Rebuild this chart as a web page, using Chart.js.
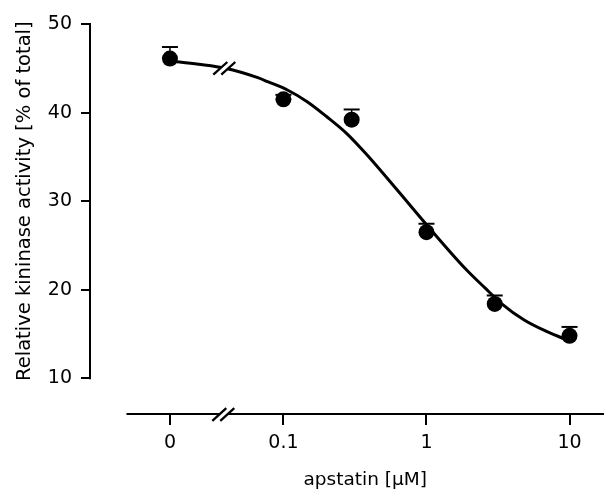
<!DOCTYPE html>
<html><head><meta charset="utf-8">
<script src="https://cdn.jsdelivr.net/npm/chart.js@4"></script>
<style>html,body{margin:0;padding:0;background:#fff}</style>
</head><body>
<canvas id="c" width="612" height="491"></canvas>
<script>
// ---- data ----
const concentrations = [0, 0.1, 0.3, 1, 3, 10];          // apstatin [µM]
const activity       = [46.1, 41.5, 39.2, 26.5, 18.4, 14.8];
const errUp          = [1.3, 0.5, 1.15, 0.95, 0.95, 1.0];
const curveConc = [0, 0.0255, 0.0392, 0.0662, 0.0776, 0.1066, 0.1466, 0.2011, 0.2761, 0.3793, 0.644, 1.012, 1.858, 2.553, 3.327, 4.82, 6.97, 10];
const curveVal  = [45.82, 45.45, 45.0, 43.94, 43.49, 42.55, 41.23, 39.53, 37.66, 35.32, 31.0, 27.25, 22.42, 20.23, 18.47, 16.58, 15.26, 14.21];
const xTickValues = [0, 0.1, 1, 10];
const xTickLabels = ['0', '0.1', '1', '10'];
const yTickValues = [10, 20, 30, 40, 50];
const xTitle = 'apstatin [\u03BCM]';
const yTitle = 'Relative kininase activity [% of total]';

// axis layout constants (log-axis positions)
const ZERO_AT = 0.0161;      // where "0" is placed on the broken log axis
const BREAK_AT = 0.038;      // axis break position
const BREAK_CURVE_Y = 45.0;
const X_LINE_START = 0.0080;
const X_MIN = Math.pow(10, -2.352), X_MAX = Math.pow(10, 1.241);
const Y_MIN = 5.97, Y_MAX = 50;
const FONT = "'DejaVu Sans', Verdana, sans-serif";

const pos = v => (v === 0 ? ZERO_AT : v);

function drawBreak(ctx, cx, cy) {
  const dx = 7, dy = 6.3, off = 4;
  ctx.save();
  ctx.lineCap = 'butt';
  ctx.strokeStyle = '#fff';
  ctx.lineWidth = 5;
  ctx.beginPath(); ctx.moveTo(cx - dx, cy + dy); ctx.lineTo(cx + dx, cy - dy); ctx.stroke();
  ctx.strokeStyle = '#000';
  ctx.lineWidth = 2.3;
  [-off, off].forEach(o => {
    ctx.beginPath(); ctx.moveTo(cx + o - dx, cy + dy); ctx.lineTo(cx + o + dx, cy - dy); ctx.stroke();
  });
  ctx.restore();
}

const decor = {
  id: 'decor',
  afterDatasetsDraw(chart) {
    const ctx = chart.ctx, xs = chart.scales.x, ys = chart.scales.y, ca = chart.chartArea;
    ctx.save();
    ctx.strokeStyle = '#000';
    // y axis line (10..50)
    ctx.lineWidth = 2;
    ctx.beginPath();
    ctx.moveTo(ca.left, ys.getPixelForValue(yTickValues[0]) + 1);
    ctx.lineTo(ca.left, ys.getPixelForValue(yTickValues[yTickValues.length - 1]) - 1);
    ctx.stroke();
    // x axis line
    ctx.beginPath();
    ctx.moveTo(xs.getPixelForValue(X_LINE_START), ca.bottom);
    ctx.lineTo(ca.right, ca.bottom);
    ctx.stroke();
    // error bars (upper only)
    concentrations.forEach((c, i) => {
      const x = xs.getPixelForValue(pos(c));
      const y0 = ys.getPixelForValue(activity[i]);
      const y1 = ys.getPixelForValue(activity[i] + errUp[i]);
      ctx.lineWidth = 1.5;
      ctx.beginPath(); ctx.moveTo(x, y0); ctx.lineTo(x, y1); ctx.stroke();
      ctx.lineWidth = 2;
      ctx.beginPath(); ctx.moveTo(x - 8, y1); ctx.lineTo(x + 8, y1); ctx.stroke();
    });
    // breaks
    const bx = xs.getPixelForValue(BREAK_AT);
    drawBreak(ctx, bx + 1, ys.getPixelForValue(BREAK_CURVE_Y));
    drawBreak(ctx, bx, ca.bottom + 0.5);
    // titles
    ctx.fillStyle = '#000';
    ctx.textAlign = 'center';
    ctx.textBaseline = 'alphabetic';
    ctx.font = '18.5px ' + FONT;
    const xl = xs.getPixelForValue(X_LINE_START);
    ctx.fillText(xTitle, (xl + ca.right) / 2, 485);
    ctx.save();
    ctx.font = '19.5px ' + FONT;
    const yc = (ys.getPixelForValue(10) + ys.getPixelForValue(50)) / 2;
    ctx.translate(25, yc);
    ctx.rotate(-Math.PI / 2);
    ctx.textBaseline = 'middle';
    ctx.fillText(yTitle, 0, 0);
    ctx.restore();
    ctx.restore();
  }
};

new Chart(document.getElementById('c'), {
  type: 'scatter',
  data: {
    datasets: [
      {
        type: 'line',
        data: curveConc.map((c, i) => ({ x: pos(c), y: curveVal[i] })),
        borderColor: '#000', borderWidth: 3, pointRadius: 0,
        cubicInterpolationMode: 'monotone', fill: false, order: 2
      },
      {
        data: concentrations.map((c, i) => ({ x: pos(c), y: activity[i] })),
        pointRadius: 8, pointHoverRadius: 8,
        backgroundColor: '#000', borderColor: '#000', borderWidth: 0, order: 1
      }
    ]
  },
  options: {
    responsive: false, animation: false, devicePixelRatio: 1,
    layout: { padding: { top: 24, right: 1, left: 0, bottom: 0 } },
    plugins: { legend: { display: false }, tooltip: { enabled: false } },
    scales: {
      x: {
        type: 'logarithmic', min: X_MIN, max: X_MAX,
        afterBuildTicks: s => { s.ticks = xTickValues.map(v => ({ value: pos(v) })); },
        afterFit: s => { s.height = 77; },
        ticks: {
          callback: (v, i) => xTickLabels[i],
          font: { family: FONT, size: 19 }, color: '#000', padding: 7,
          maxRotation: 0, autoSkip: false
        },
        grid: { drawOnChartArea: false, drawTicks: true, tickLength: 11, lineWidth: 2, color: '#000' },
        border: { display: false }
      },
      y: {
        type: 'linear', min: Y_MIN, max: Y_MAX,
        afterBuildTicks: s => { s.ticks = yTickValues.map(v => ({ value: v })); },
        afterFit: s => { s.width = 90; },
        ticks: { font: { family: FONT, size: 19 }, color: '#000', padding: 9 },
        grid: { drawOnChartArea: false, drawTicks: true, tickLength: 9, lineWidth: 2, color: '#000' },
        border: { display: false }
      }
    }
  },
  plugins: [decor]
});
</script>
</body></html>
